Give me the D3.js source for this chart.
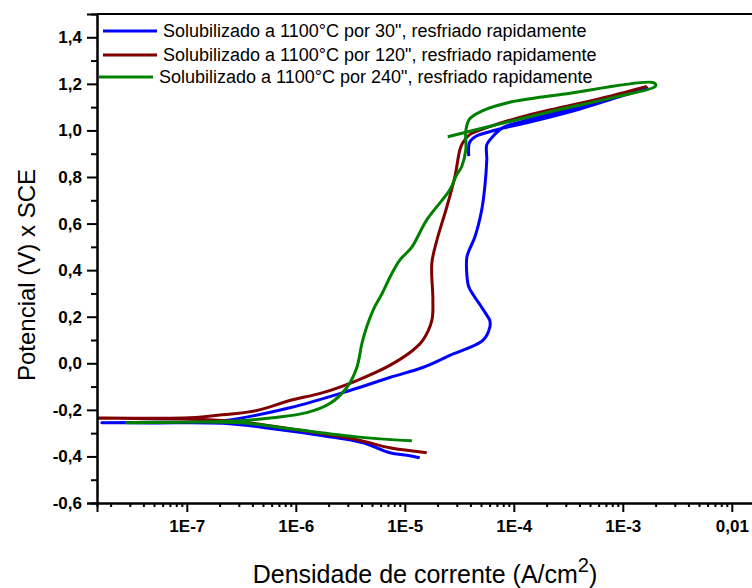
<!DOCTYPE html>
<html>
<head>
<meta charset="utf-8">
<script src="https://cdn.jsdelivr.net/npm/d3@7"></script>
<style>
  html, body { margin: 0; padding: 0; background: #fff; }
  svg { display: block; }
</style>
</head>
<body>
<svg id="chart" width="752" height="588"></svg>
<script>
// ---------------- DATA ----------------
const seriesNames = [
  "Solubilizado a 1100°C por 30\", resfriado rapidamente",
  "Solubilizado a 1100°C por 120\", resfriado rapidamente",
  "Solubilizado a 1100°C por 240\", resfriado rapidamente"
];
const seriesColors = ["#0000ff", "#800000", "#008000"];

// [current density (A/cm2), potential (V)]
const s30 = [
  [1.37e-5,-0.406],[1.05e-5,-0.395],[7.28e-6,-0.384],[4.12e-6,-0.341],[1.77e-6,-0.311],
  [6.15e-7,-0.281],[2.14e-7,-0.258],[5e-8,-0.256],[1.66e-8,-0.255],
  [5e-8,-0.253],[2.14e-7,-0.247],[8.81e-7,-0.191],[3.13e-6,-0.117],[7.28e-6,-0.061],
  [1.46e-5,-0.018],[2.59e-5,0.034],[5.20e-5,0.098],[6.02e-5,0.154],[6.02e-5,0.184],
  [5.77e-5,0.20],[5.0e-5,0.245],[4.3e-5,0.29],[3.85e-5,0.33],[3.71e-5,0.380],
  [3.71e-5,0.456],[3.85e-5,0.48],[4.39e-5,0.542],[5.08e-5,0.659],[5.42e-5,0.758],
  [5.65e-5,0.874],[5.65e-5,0.939],[6.28e-5,0.969],[7.93e-5,1.012],[1.40e-4,1.047],
  [4.04e-4,1.103],[1.66e-3,1.184],
  [4.04e-4,1.092],[1.40e-4,1.036],[7.0e-5,1.003],[4.5e-5,0.975],[3.94e-5,0.95],
  [3.86e-5,0.89]
];
const s120 = [
  [1.59e-5,-0.384],[7.28e-6,-0.363],[3.63e-6,-0.328],[8.81e-7,-0.281],[3.06e-7,-0.251],
  [1.6e-7,-0.242],[1.2e-8,-0.235],
  [1.07e-7,-0.234],[2.14e-7,-0.221],[4.38e-7,-0.203],[8.81e-7,-0.160],[1.77e-6,-0.126],
  [3.63e-6,-0.074],[7.28e-6,-0.009],[1.18e-5,0.055],[1.46e-5,0.098],[1.77e-5,0.184],
  [1.81e-5,0.271],[1.77e-5,0.430],[1.97e-5,0.529],[2.43e-5,0.672],[2.88e-5,0.801],
  [3.20e-5,0.917],[3.4e-5,0.947],[3.94e-5,0.982],[6.02e-5,1.016],[1.40e-4,1.068],
  [5.77e-4,1.133],[1.66e-3,1.189]
];
const s240 = [
  [1.16e-5,-0.333],[3.63e-6,-0.316],[8.81e-7,-0.281],[3.06e-7,-0.255],[2.8e-8,-0.255],
  [1e-7,-0.253],[3.06e-7,-0.247],[6.15e-7,-0.234],[1.26e-6,-0.212],[2.05e-6,-0.173],
  [2.94e-6,-0.104],[3.63e-6,-0.018],[4.04e-6,0.085],[4.5e-6,0.16],[5.2e-6,0.235],
  [6.2e-6,0.30],[7.5e-6,0.38],[8.99e-6,0.443],[1.16e-5,0.499],[1.59e-5,0.616],
  [2.59e-5,0.745],[3.0e-5,0.81],[3.33e-5,0.845],[3.63e-5,0.917],[3.63e-5,1.0],
  [3.94e-5,1.05],[5.2e-5,1.085],[9e-5,1.12],[2.8e-4,1.155],[1.88e-3,1.206],
  [2.01e-3,1.195],[1.95e-3,1.186],
  [8.09e-4,1.141],[2.01e-4,1.077],[6.98e-5,1.025],[2.48e-5,0.973]
];
const seriesData = [s30, s120, s240];

const xDomain = [1.5e-8, 0.02];
const yDomain = [-0.6, 1.5];
const xTickValues = [1e-7, 1e-6, 1e-5, 1e-4, 1e-3, 1e-2];
const xTickLabels = ["1E-7", "1E-6", "1E-5", "1E-4", "1E-3", "0,01"];
const yTickValues = [-0.6, -0.4, -0.2, 0.0, 0.2, 0.4, 0.6, 0.8, 1.0, 1.2, 1.4];
const yTickLabels = ["-0,6", "-0,4", "-0,2", "0,0", "0,2", "0,4", "0,6", "0,8", "1,0", "1,2", "1,4"];
const xTitle = "Densidade de corrente (A/cm";
const yTitle = "Potencial (V) x SCE";

// ---------------- LAYOUT ----------------
const svg = d3.select("#chart");
const mLeft = 97, mTop = 14, mBottom = 503;
const pxPerDecade = 109;
const mRight = mLeft + pxPerDecade * Math.log10(xDomain[1] / xDomain[0]);
const FONT = "Liberation Sans, Arial, sans-serif";

const x = d3.scaleLog().domain(xDomain).range([mLeft, mRight]);
const y = d3.scaleLinear().domain(yDomain).range([mBottom, mTop]);

svg.append("defs").append("clipPath").attr("id", "plotclip")
  .append("rect").attr("x", mLeft).attr("y", mTop).attr("width", mRight - mLeft).attr("height", mBottom - mTop);

// curves
const line = d3.line().x(d => x(d[0])).y(d => y(d[1])).curve(d3.curveCatmullRom.alpha(0.5));
const g = svg.append("g").attr("clip-path", "url(#plotclip)");
seriesData.forEach((s, i) => {
  g.append("path").datum(s)
    .attr("d", line)
    .attr("fill", "none")
    .attr("stroke", seriesColors[i])
    .attr("stroke-width", 3)
    .attr("stroke-linejoin", "round")
    .attr("stroke-linecap", "butt");
});

// top frame line
svg.append("line").attr("x1", mLeft).attr("x2", mRight).attr("y1", mTop).attr("y2", mTop)
  .attr("stroke", "#000").attr("stroke-width", 2);

// x axis
const xMinor = [];
for (let e = -9; e <= -1; e++) {
  for (let m = 2; m <= 9; m++) {
    const v = m * Math.pow(10, e);
    if (v > xDomain[0] && v < xDomain[1]) xMinor.push(v);
  }
}
const xAxisG = svg.append("g").attr("transform", `translate(0,${mBottom})`);
xAxisG.append("g").call(d3.axisBottom(x).tickValues(xMinor).tickSize(4).tickFormat(""));
xAxisG.append("g").call(d3.axisBottom(x).tickValues(xTickValues).tickSize(9)
  .tickFormat((d, i) => xTickLabels[i]).tickPadding(8));
xAxisG.selectAll(".domain").attr("stroke", "#000").attr("stroke-width", 2);
xAxisG.selectAll(".tick line").attr("stroke", "#000").attr("stroke-width", 2);
xAxisG.selectAll("text").attr("font-family", FONT)
  .attr("font-size", 17).attr("font-weight", "bold").attr("fill", "#000");

// y axis
const yMinor = d3.range(-5, 15, 2).map(v => v / 10);
const yAxisG = svg.append("g").attr("transform", `translate(${mLeft},0)`);
yAxisG.append("g").call(d3.axisLeft(y).tickValues(yMinor).tickSize(6).tickFormat(""));
yAxisG.append("g").call(d3.axisLeft(y).tickValues(yTickValues).tickSize(10)
  .tickFormat((d, i) => yTickLabels[i]).tickPadding(5));
yAxisG.selectAll(".domain").attr("stroke", "#000").attr("stroke-width", 2);
yAxisG.selectAll(".tick line").attr("stroke", "#000").attr("stroke-width", 2);
yAxisG.selectAll("text").attr("font-family", FONT)
  .attr("font-size", 17).attr("font-weight", "bold").attr("fill", "#000");

// axis titles
const xt = svg.append("text").attr("x", 425).attr("y", 583)
  .attr("text-anchor", "middle")
  .attr("font-family", FONT).attr("font-size", 25).attr("fill", "#000");
xt.append("tspan").text(xTitle);
xt.append("tspan").attr("dy", -11).attr("font-size", 20).text("2");
xt.append("tspan").attr("dy", 11).text(")");

svg.append("text").attr("transform", "translate(35,275) rotate(-90)")
  .attr("text-anchor", "middle")
  .attr("font-family", FONT).attr("font-size", 24).attr("fill", "#000")
  .text(yTitle);

// legend
const legendRowsY = [31, 55, 77];
const legendShift = [0, 0, -4];
seriesNames.forEach((name, i) => {
  const ly = legendRowsY[i];
  const dx = legendShift[i];
  svg.append("line").attr("x1", 103 + dx).attr("x2", 157 + dx).attr("y1", ly).attr("y2", ly)
    .attr("stroke", seriesColors[i]).attr("stroke-width", 3);
  svg.append("text").attr("x", 163 + dx).attr("y", ly).attr("dy", "0.35em")
    .attr("font-family", FONT).attr("font-size", 18).attr("fill", "#000")
    .text(name);
});
</script>
</body>
</html>
